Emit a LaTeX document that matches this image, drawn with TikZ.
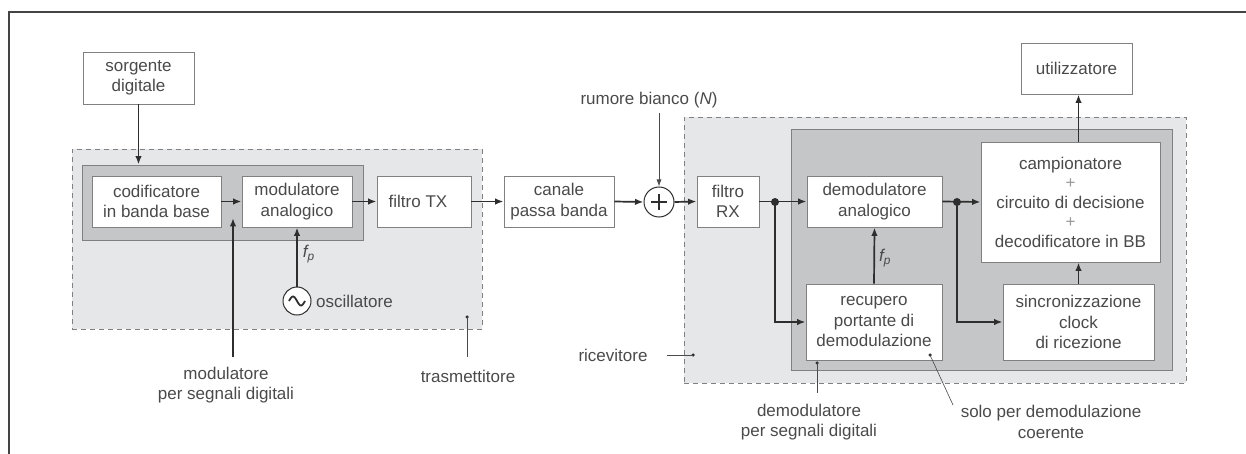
\documentclass[tikz,border=0pt]{standalone}
\usepackage{fontspec}
\setmainfont{Liberation Sans}
\usetikzlibrary{arrows.meta}
\definecolor{txt}{HTML}{4A4A4A}
\definecolor{bord}{HTML}{808080}
\definecolor{lightfill}{HTML}{E6E7E8}
\definecolor{darkfill}{HTML}{C5C6C7}
\definecolor{sigcol}{HTML}{2E2E2E}
\definecolor{framecol}{HTML}{444444}
\begin{document}
\begin{tikzpicture}[x=1pt,y=-1pt,
  font=\fontsize{17}{20.5}\selectfont,
  blk/.style={draw=bord, line width=0.9pt, fill=white, align=center, text=txt, inner sep=0pt},
  region/.style={fill=lightfill, draw=bord, line width=0.8pt, dash pattern=on 5pt off 4pt, inner sep=0pt},
  inner/.style={fill=darkfill, draw=bord, line width=0.9pt, inner sep=0pt},
  sig/.style={draw=sigcol, line width=1.7pt, -{Latex[length=8.5pt,width=6.5pt]}},
  thinarrow/.style={draw=txt, line width=0.8pt, -{Latex[length=7pt,width=5pt]}},
  lead/.style={draw=txt, line width=0.6pt},
  lbl/.style={text=txt, align=center, inner sep=0pt},
  joint/.style={circle, fill=sigcol, inner sep=0pt, minimum size=8pt},
  tick/.style={circle, fill=sigcol, inner sep=0pt, minimum size=3.5pt}
]
\useasboundingbox (0,0) rectangle (1246,454);
% frame
\draw[framecol, line width=1.5pt] (9,454) -- (9,12) -- (1246,12);

% regions
\node[region, minimum width=410pt, minimum height=180pt] (tx) at (277,239) {};
\node[inner, minimum width=281pt, minimum height=75pt] (txmod) at (222.5,202.5) {};
\node[region, minimum width=502pt, minimum height=266pt] (rx) at (935,250) {};
\node[inner, minimum width=381pt, minimum height=241pt] (rxdem) at (981.5,249.5) {};

% blocks
\node[blk, minimum width=111pt, minimum height=52pt] (src) at (138.5,78) {sorgente\\digitale};
\node[blk, minimum width=129pt, minimum height=51pt] (cod) at (156.5,201.5) {codificatore\\in banda base};
\node[blk, minimum width=110pt, minimum height=51pt] (mod) at (297,201.5) {modulatore\\analogico};
\node[blk, minimum width=94pt, minimum height=51pt] (ftx) at (424,201.5) {\hspace*{-12pt}filtro TX};
\node[blk, minimum width=110pt, minimum height=51pt] (ch) at (559,201.5) {canale\\passa banda};
\node[circle, draw=sigcol, line width=1pt, fill=white, minimum size=30pt, inner sep=0pt] (sum) at (659,202) {};
\draw[sigcol, line width=1.8pt] (sum.center) ++(-8,0) -- ++(16,0);
\draw[sigcol, line width=1.8pt] (sum.center) ++(0,-8) -- ++(0,16);
\node[blk, minimum width=62pt, minimum height=51pt] (frx) at (728,201.5) {filtro\\RX};
\node[blk, minimum width=135pt, minimum height=51pt] (dem) at (874.5,201.5) {demodulatore\\analogico};
\node[blk, minimum width=179pt, minimum height=120pt] (camp) at (1070.5,202) {campionatore\\[-1pt]{\color{gray!80}+}\\[-1pt]circuito di decisione\\[-1pt]{\color{gray!80}+}\\[-1pt]decodificatore in BB};
\node[blk, minimum width=136pt, minimum height=76pt] (rec) at (874,322) {recupero\\portante di\\demodulazione};
\node[blk, minimum width=151pt, minimum height=76pt] (sinc) at (1078.5,322) {sincronizzazione\\clock\\di ricezione};
\node[blk, minimum width=111pt, minimum height=51pt] (util) at (1076.5,68.5) {utilizzatore};

% oscillator
\node[circle, draw=sigcol, line width=1pt, fill=white, minimum size=28pt, inner sep=0pt] (osc) at (297,301) {};
\draw[sigcol, line width=1.8pt, domain=-1:1, samples=40, smooth] plot ({297+8*\x},{301+4.5*sin(180*\x)});
\node[lbl, anchor=west] (osclbl) at (316,301) {oscillatore};

% transmitter signal path
\draw[sig] (src.south) -- (src.south |- txmod.north);
\draw[sig] (cod.east) -- (mod.west);
\draw[sig] (mod.east) -- (ftx.west);
\draw[sig] (ftx.east) -- (ch.west);
\draw[sig] (osc.north) -- (mod.south) node[pos=0.55, right=5pt, lbl] (fp1) {\itshape f\textsubscript{p}};

% channel
\draw[sig] (ch.east) -- (sum.west);
\node[lbl] (noise) at (649,100) {rumore bianco ({\itshape N})};
\coordinate (noisefoot) at (659,113);
\draw[thinarrow] (noisefoot) -- (sum.north);
\draw[sig] (sum.east) -- (frx.west);

% receiver
\node[joint] (j1) at (775,202) {};
\node[joint] (j2) at (957,202) {};
\draw[sig] (frx.east) -- (dem.west);
\draw[sig] (j1.center) |- (rec.west);
\draw[sig] (dem.east) -- (camp.west);
\draw[sig] (j2.center) |- (sinc.west);
\draw[sig] (rec.north) -- (dem.south) node[pos=0.45, right=4pt, lbl] (fp2) {\itshape f\textsubscript{p}};
\draw[sig] (sinc.north) -- (sinc.north |- camp.south);
\draw[sig] (sinc.north |- camp.north) -- (sinc.north |- util.south);

% annotation: modulatore per segnali digitali
\coordinate (modtip) at (233,218);
\coordinate (modfoot) at (233,357);
\draw[sig] (modfoot) -- (modtip);
\node[lbl] (modlbl) at (226,385) {modulatore\\per segnali digitali};

% annotation: trasmettitore
\node[tick] (txdot) at (467,317) {};
\coordinate (txfoot) at (467,357);
\draw[lead] (txdot.center) -- (txfoot);
\node[lbl] (txlbl) at (468,376) {trasmettitore};

% annotation: ricevitore
\node[tick] (rxdot) at (693,355) {};
\coordinate (rxfoot) at (667,355);
\draw[lead] (rxdot.center) -- (rxfoot);
\node[lbl] (rxlbl) at (613,355) {ricevitore};

% annotation: demodulatore per segnali digitali
\node[tick] (ddot) at (817,363) {};
\coordinate (dfoot) at (817,393);
\draw[lead] (ddot.center) -- (dfoot);
\node[lbl] (dlbl) at (809,422) {demodulatore\\per segnali digitali};

% annotation: solo per demodulazione coerente
\node[tick] (sdot) at (930,355) {};
\coordinate (sfoot) at (953,405);
\draw[lead] (sdot.center) -- (sfoot);
\node[lbl] (slbl) at (1051,422) {solo per demodulazione\\coerente};
\end{tikzpicture}
\end{document}
